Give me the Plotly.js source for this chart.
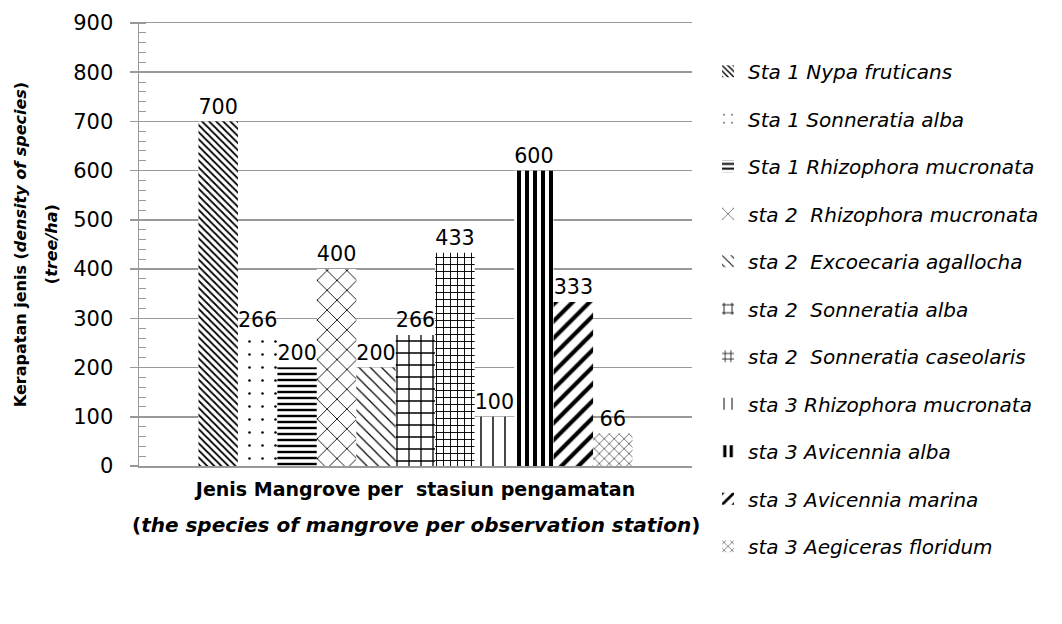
<!DOCTYPE html>
<html><head><meta charset="utf-8">
<script src="https://cdn.plot.ly/plotly-3.0.1.min.js"></script>
<style>html,body{margin:0;padding:0;background:#fff}#chart{width:1062px;height:624px}</style>
</head><body><div id="chart"></div>
<script>
const categories = ['Jenis Mangrove'];
const seriesNames = [
  'Sta 1 Nypa fruticans',
  'Sta 1 Sonneratia alba',
  'Sta 1 Rhizophora mucronata',
  'sta 2\u00a0 Rhizophora mucronata',
  'sta 2\u00a0 Excoecaria agallocha',
  'sta 2\u00a0 Sonneratia alba',
  'sta 2\u00a0 Sonneratia caseolaris',
  'sta 3 Rhizophora mucronata',
  'sta 3 Avicennia alba',
  'sta 3 Avicennia marina',
  'sta 3 Aegiceras floridum'
];
const seriesValues = [700, 266, 200, 400, 200, 266, 433, 100, 600, 333, 66];
const yTicks = [0, 100, 200, 300, 400, 500, 600, 700, 800, 900];
const xTitleLine1 = '<b>Jenis Mangrove per\u00a0 stasiun pengamatan</b>';
const xTitleLine2 = '<b>(<i>the species of mangrove per observation station</i>)</b>';
const yTitleLine1 = '<b>Kerapatan jenis (<i>density of species</i>)</b>';
const yTitleLine2 = '<b>(<i>tree/ha</i>)</b>';

const patterns = [
  {shape:'\\', size:5, solidity:0.35},
  {shape:'.', size:13, solidity:0.03},
  {shape:'-', size:6, solidity:0.4},
  {shape:'x', size:14, solidity:0.12},
  {shape:'\\', size:8, solidity:0.15},
  {shape:'+', size:12, solidity:0.2},
  {shape:'+', size:7, solidity:0.25},
  {shape:'|', size:12, solidity:0.12},
  {shape:'|', size:8, solidity:0.5},
  {shape:'/', size:12, solidity:0.35},
  {shape:'x', size:7, solidity:0.15}
];

const FONT = 'DejaVu Sans, sans-serif';
const traces = seriesNames.map((name, i) => ({
  type: 'bar',
  name: name,
  legendgroup: 'g' + i,
  x: categories,
  y: [seriesValues[i]],
  text: [String(seriesValues[i])],
  textposition: 'outside',
  textfont: {family: FONT, size: 21, color: '#000'},
  cliponaxis: false,
  marker: {
    color: '#fff',
    line: {width: 0},
    pattern: Object.assign({fgcolor: '#000', bgcolor: '#fff', fillmode: 'replace'}, patterns[i])
  },
  hoverinfo: 'name+y'
}));

const layout = {
  width: 1062, height: 624,
  margin: {l: 139, r: 370, t: 23, b: 158},
  paper_bgcolor: '#fff', plot_bgcolor: '#fff',
  barmode: 'group', bargap: 0.215, bargroupgap: 0,
  font: {family: FONT, color: '#000'},
  showlegend: true,
  legend: {
    x: 1.029, xanchor: 'left', y: 0.935, yanchor: 'top',
    maxheight: 600,
    font: {family: FONT, size: 20, style: 'italic', color: '#000'},
    tracegroupgap: 18.5, itemwidth: 30, bgcolor: 'rgba(0,0,0,0)', borderwidth: 0
  },
  xaxis: {
    type: 'category', showticklabels: false, ticks: '', showgrid: false,
    showline: true, mirror: true, linecolor: '#999', linewidth: 1.5, zeroline: false,
    title: {
      text: xTitleLine1,
      font: {family: FONT, size: 19, color: '#000'}, standoff: 16
    }
  },
  yaxis: {
    range: [0, 900], tickvals: yTicks, ticktext: yTicks.map(String),
    tickfont: {family: FONT, size: 21, color: '#000'},
    ticks: 'outside', ticklen: 8, tickcolor: '#999', tickwidth: 1.5,
    ticklabelstandoff: 12,
    showline: true, linecolor: '#999', linewidth: 1.5,
    showgrid: true, gridcolor: '#999', gridwidth: 1.5, zeroline: false,
    minor: {dtick: 20, ticks: 'inside', ticklen: 7, tickcolor: '#999', tickwidth: 1, showgrid: false},
    title: {
      text: yTitleLine1,
      font: {family: FONT, size: 16, color: '#000'}, standoff: 42
    }
  },
  annotations: [
    {text: xTitleLine2, xref: 'paper', yref: 'paper', x: 0.5, y: -0.133,
     xanchor: 'center', yanchor: 'middle', showarrow: false,
     font: {family: FONT, size: 20, color: '#000'}},
    {text: yTitleLine2, xref: 'paper', yref: 'paper', x: -0.158, y: 0.5,
     xanchor: 'center', yanchor: 'middle', showarrow: false, textangle: -90,
     font: {family: FONT, size: 16, color: '#000'}}
  ]
};
Plotly.newPlot('chart', traces, layout, {displayModeBar: false, staticPlot: true});
</script></body></html>
